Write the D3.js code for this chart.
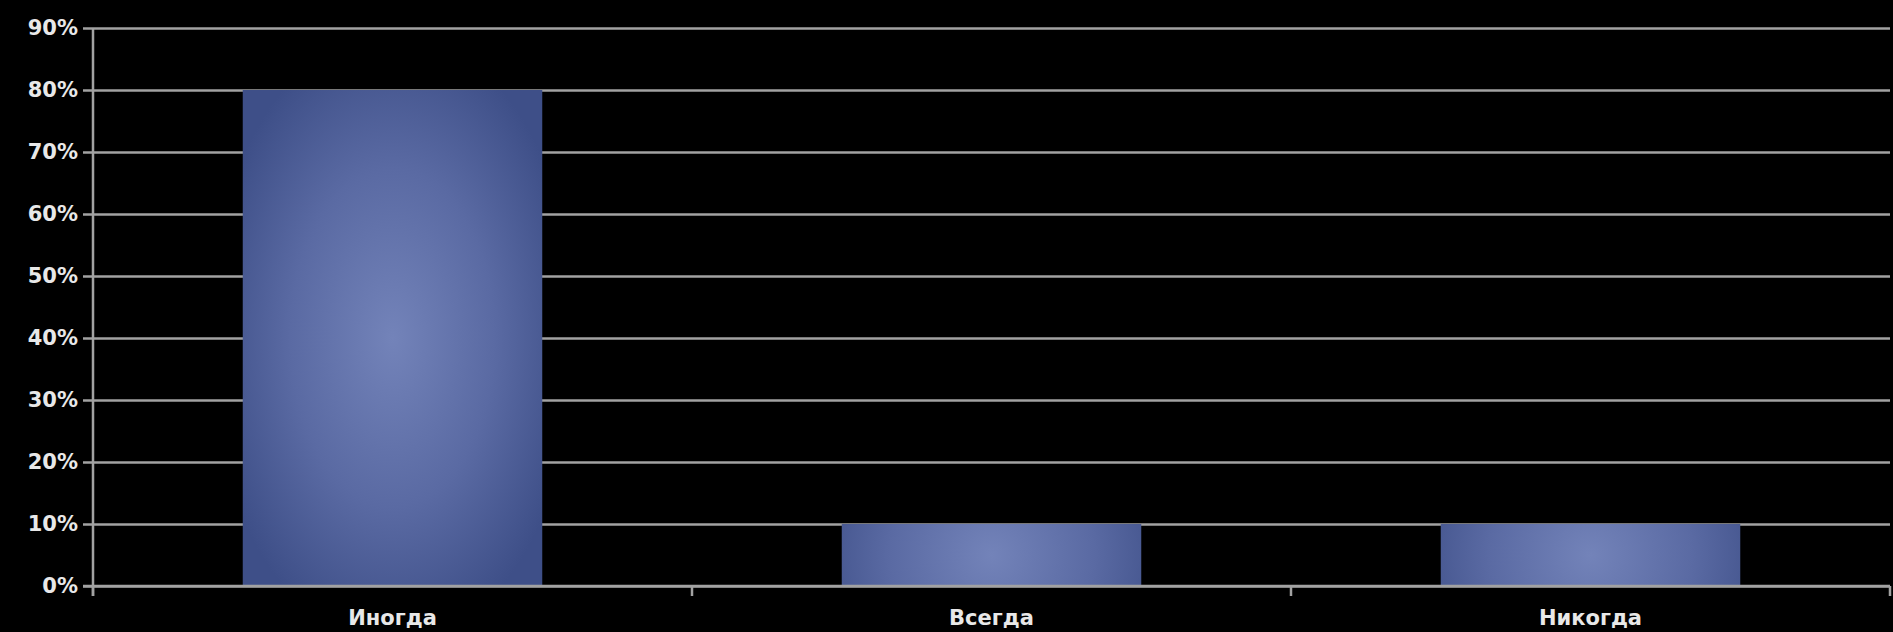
<!DOCTYPE html>
<html>
<head>
<meta charset="utf-8">
<script src="https://cdn.jsdelivr.net/npm/d3@7"></script>
<style>
  html, body { margin: 0; padding: 0; background: #000; }
  svg { display: block; }
</style>
</head>
<body>
<svg id="chart" width="1893" height="632"></svg>
<script>
const categories = ["Иногда", "Всегда", "Никогда"];
const values = [0.80, 0.10, 0.10];
const yTicks = [0, 0.1, 0.2, 0.3, 0.4, 0.5, 0.6, 0.7, 0.8, 0.9];

const W = 1893, H = 632;
const margin = { top: 28, right: 3, bottom: 46, left: 93 };
const svg = d3.select("#chart");

const x = d3.scaleBand()
  .domain(categories)
  .range([margin.left, W - margin.right])
  .paddingInner(0.5)
  .paddingOuter(0.25);

const y = d3.scaleLinear()
  .domain([0, 0.9])
  .range([H - margin.bottom, margin.top]);

// per-bar elliptical gradients (centre lighter, edges darker)
const defs = svg.append("defs");
categories.forEach((c, i) => {
  const cx = x(c) + x.bandwidth() / 2;
  const cy = (y(values[i]) + y(0)) / 2;
  const h = y(0) - y(values[i]);
  const rx = x.bandwidth() * 0.62;
  const ry = Math.max(h * 0.62, rx);
  const g = defs.append("radialGradient")
    .attr("id", "barGrad" + i)
    .attr("gradientUnits", "userSpaceOnUse")
    .attr("cx", 0).attr("cy", 0).attr("r", 1)
    .attr("gradientTransform", `translate(${cx},${cy}) scale(${rx},${ry})`);
  g.append("stop").attr("offset", "0%").attr("stop-color", "#7383b9");
  g.append("stop").attr("offset", "55%").attr("stop-color", "#5a6aa3");
  g.append("stop").attr("offset", "100%").attr("stop-color", "#3e4f88");
});

// gridlines + y labels
const yAxis = d3.axisLeft(y)
  .tickValues(yTicks)
  .tickFormat(d3.format(".0%"))
  .tickSize(0)
  .tickPadding(5);

const yg = svg.append("g")
  .attr("transform", `translate(${margin.left - 10},0)`)
  .call(yAxis);
yg.select(".domain").remove();
yg.selectAll(".tick line")
  .attr("x1", 0).attr("x2", W - margin.right - margin.left + 10)
  .attr("stroke", "#a2a2a2")
  .attr("stroke-width", 2.5);
yg.selectAll(".tick text")
  .attr("fill", "#e8e8e8")
  .attr("x", -5)
  .style("font-family", "'DejaVu Sans', sans-serif")
  .style("font-weight", "bold")
  .style("font-size", "21px");

// y axis line
svg.append("line")
  .attr("x1", margin.left).attr("x2", margin.left)
  .attr("y1", y(0.9)).attr("y2", y(0) + 10)
  .attr("stroke", "#a2a2a2").attr("stroke-width", 2.5);

// bars
svg.append("g").selectAll("rect")
  .data(categories)
  .join("rect")
  .attr("x", d => x(d))
  .attr("width", x.bandwidth())
  .attr("y", (d, i) => y(values[i]))
  .attr("height", (d, i) => y(0) - y(values[i]))
  .attr("fill", (d, i) => `url(#barGrad${i})`);

// x axis baseline + boundary ticks
const bTicks = [margin.left, ...categories.slice(1).map(c => x(c) - (x.step() - x.bandwidth()) / 2), W - margin.right];
svg.append("line")
  .attr("x1", margin.left - 10).attr("x2", W - margin.right)
  .attr("y1", y(0)).attr("y2", y(0))
  .attr("stroke", "#a2a2a2").attr("stroke-width", 2.5);
svg.append("g").selectAll("line")
  .data(bTicks)
  .join("line")
  .attr("x1", d => d).attr("x2", d => d)
  .attr("y1", y(0)).attr("y2", y(0) + 10)
  .attr("stroke", "#a2a2a2").attr("stroke-width", 2.5);

// category labels
const xAxis = d3.axisBottom(x).tickSize(0).tickPadding(24);
const xg = svg.append("g")
  .attr("transform", `translate(0,${y(0)})`)
  .call(xAxis);
xg.select(".domain").remove();
xg.selectAll(".tick text")
  .attr("fill", "#e8e8e8")
  .style("font-family", "'DejaVu Sans', sans-serif")
  .style("font-weight", "bold")
  .style("font-size", "21px");
</script>
</body>
</html>
